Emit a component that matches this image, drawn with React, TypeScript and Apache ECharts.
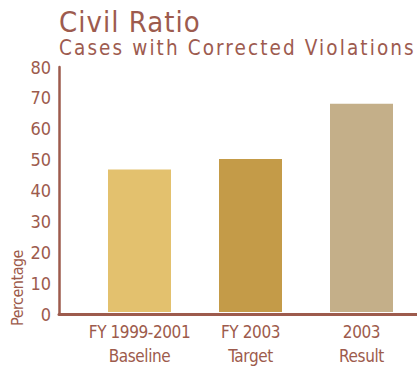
import React, { useEffect, useRef } from "react";
import * as echarts from "echarts";

const categories = ["FY 1999-2001\nBaseline", "FY 2003\nTarget", "2003\nResult"];
const values = [46.5, 50, 68];
const barColors = ["#E3C16E", "#C49B48", "#C4AF89"];
const yTicks = [0, 80, 10];
const titleText = "Civil Ratio";
const subtitleText = "Cases with Corrected Violations";
const yName = "Percentage";

const FONT = '"DejaVu Sans Condensed", "DejaVu Sans", sans-serif';
const TEXT = "#9d5b4d";
const C_TITLE = "#9d5b4e";
const C_SUB = "#9d5b4f";
const C_XLAB = "#9d5b4c";
const C_NAME = "#9d5b4b";

export default function App() {
  const ref = useRef<HTMLDivElement>(null);
  useEffect(() => {
    if (!ref.current) return;
    const chart = echarts.init(ref.current, undefined, { renderer: "svg" });
    const option = {
      animation: false,
      backgroundColor: "#ffffff",
      title: [
        {
          text: titleText,
          left: 59,
          top: 7,
          padding: 0,
          textStyle: { fontFamily: FONT, fontSize: 29, fontWeight: "normal", color: C_TITLE },
        },
        {
          text: subtitleText,
          left: 59,
          top: 37,
          padding: 0,
          textStyle: { fontFamily: FONT, fontSize: 20.5, fontWeight: "normal", color: C_SUB },
        },
      ],
      grid: [
        { left: 84, right: 0, top: 67, bottom: 54 },
        { left: 59, right: 0, top: 67, bottom: 54 },
      ],
      xAxis: [
        {
          type: "category",
          gridIndex: 0,
          data: categories,
          axisLine: { show: false },
          axisTick: { show: false },
          axisLabel: {
            margin: 8,
            fontFamily: FONT,
            fontSize: 17,
            lineHeight: 24,
            color: C_XLAB,
            interval: 0,
          },
        },
        {
          type: "value",
          gridIndex: 1,
          min: 0,
          max: 1,
          axisLine: { show: true, lineStyle: { color: TEXT, width: 3 } },
          axisTick: { show: false },
          axisLabel: { show: false },
          splitLine: { show: false },
        },
      ],
      yAxis: [
        {
          type: "value",
          gridIndex: 0,
          min: yTicks[0],
          max: yTicks[1],
          interval: yTicks[2],
          show: false,
        },
        {
          type: "value",
          gridIndex: 1,
          min: yTicks[0],
          max: yTicks[1],
          interval: yTicks[2],
          axisLine: { show: true, lineStyle: { color: TEXT, width: 2.5 } },
          axisTick: { show: false },
          splitLine: { show: false },
          axisLabel: { margin: 8, fontFamily: FONT, fontSize: 18, color: TEXT },
        },
      ],
      graphic: [
        {
          type: "text",
          x: 17,
          y: 288,
          rotation: Math.PI / 2,
          style: {
            text: yName,
            align: "center",
            verticalAlign: "middle",
            fontFamily: FONT,
            fontSize: 16,
            fill: C_NAME,
          },
        },
      ],
      series: [
        {
          type: "bar",
          xAxisIndex: 0,
          yAxisIndex: 0,
          barWidth: 63,
          data: values.map((v, i) => ({ value: v, itemStyle: { color: barColors[i] } })),
        },
      ],
    };
    chart.setOption(option as any);
    return () => chart.dispose();
  }, []);
  return (
    <>
      <style>{`
        .civil-chart text { font-stretch: condensed !important; }
        .civil-chart text[fill="${C_TITLE}"], .civil-chart text[fill="${C_TITLE.toUpperCase()}"] { letter-spacing: 1px; }
        .civil-chart text[fill="${C_SUB}"], .civil-chart text[fill="${C_SUB.toUpperCase()}"] { letter-spacing: 2.1px; }
        .civil-chart text[fill="${C_XLAB}"], .civil-chart text[fill="${C_XLAB.toUpperCase()}"] { letter-spacing: -0.4px; }
        .civil-chart text[fill="${C_NAME}"], .civil-chart text[fill="${C_NAME.toUpperCase()}"] { letter-spacing: -0.5px; }
      `}</style>
      <div
        ref={ref}
        className="civil-chart"
        style={{ position: "fixed", left: 0, top: 0, width: 417, height: 368 }}
      />
    </>
  );
}
